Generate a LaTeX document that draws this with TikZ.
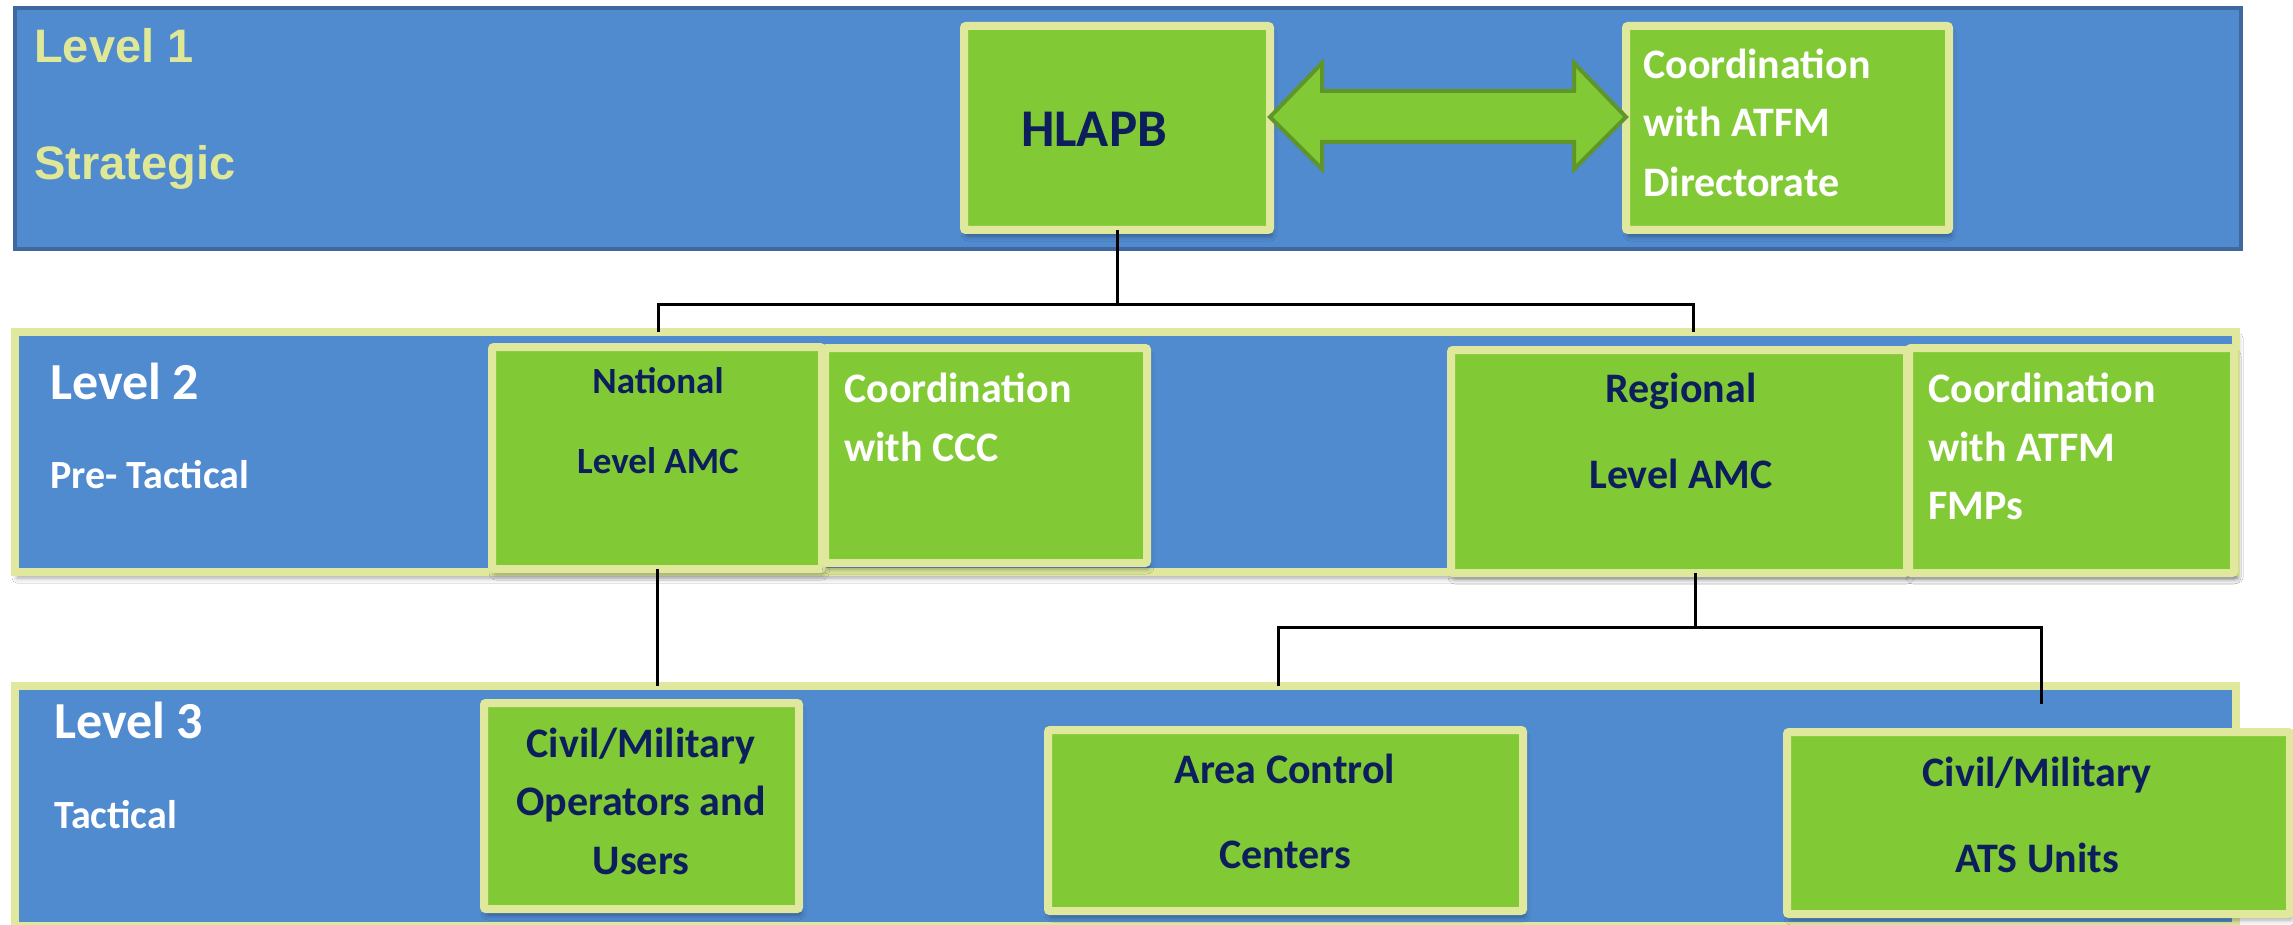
\documentclass[tikz,border=0pt]{standalone}
\usepackage{fontspec}
\setmainfont{Carlito}
\newfontfamily\arialf{Liberation Sans}
\usetikzlibrary{calc,shadows.blur}
\definecolor{bandblue}{HTML}{508BCF}
\definecolor{bandedge}{HTML}{41689E}
\definecolor{boxgreen}{HTML}{82C936}
\definecolor{ybord}{HTML}{E0E89E}
\definecolor{navy}{HTML}{0C1E5C}
\definecolor{lvone}{HTML}{DEE896}
\definecolor{arrowedge}{HTML}{5E962A}
\begin{document}
\begin{tikzpicture}[x=1pt,y=-1pt,
  band/.style={fill=bandblue,inner sep=0pt,outer sep=0pt},
  shad/.style={blur shadow={shadow xshift=2pt,shadow yshift=-6pt,shadow blur radius=5pt,shadow opacity=35}},
  gbox/.style={fill=boxgreen,draw=ybord,line width=8pt,inner sep=0pt,outer sep=0pt,rounded corners=2pt,shad},
  conn/.style={draw=black,line width=3pt},
  dblarrow/.style={fill=boxgreen,draw=arrowedge,line width=4pt,line join=miter},
  wl/.style={text=white,anchor=base west,inner sep=0pt,font=\bfseries\fontsize{42}{42}\selectfont},
  nc/.style={text=navy,anchor=base,inner sep=0pt,font=\bfseries\fontsize{42}{42}\selectfont},
  lvtext/.style={text=white,anchor=base west,inner sep=0pt}
]
\useasboundingbox (0,0) rectangle (2293,925);
\fill[white] (0,0) rectangle (2293,925);

% bands
\node[band,draw=bandedge,line width=4pt,minimum width=2226pt,minimum height=241pt] (band1) at (1128,128.5) {};
\node[band,draw=ybord,line width=8pt,minimum width=2221pt,minimum height=240pt,shad] (band2) at (1125.5,452) {};
\node[band,draw=ybord,line width=8pt,minimum width=2221pt,minimum height=240pt] (band3) at (1125.5,806) {};

% level labels
\node[lvtext,text=lvone,font=\arialf\bfseries\fontsize{47}{47}\selectfont] (tl1) at (34,63) {Level 1};
\node[lvtext,text=lvone,font=\arialf\bfseries\fontsize{47}{47}\selectfont] (tstrat) at (34,180) {Strategic};
\node[lvtext,font=\bfseries\fontsize{52}{52}\selectfont] (tl2) at (50,399) {Level 2};
\node[lvtext,font=\bfseries\fontsize{40}{40}\selectfont] (tpre) at (50,488) {Pre- Tactical};
\node[lvtext,font=\bfseries\fontsize{52}{52}\selectfont] (tl3) at (54,738) {Level 3};
\node[lvtext,font=\bfseries\fontsize{40}{40}\selectfont] (ttac) at (54,828) {Tactical};

% level 1 boxes
\node[gbox,minimum width=306pt,minimum height=204pt] (hlapb) at (1117,128) {};
\node[gbox,minimum width=323pt,minimum height=204pt] (dir) at (1787.5,128) {};
\node[nc,font=\bfseries\fontsize{53}{53}\selectfont] (thlapb) at (1094,147) {HLAPB};
\node[wl] (tdir1) at (1643,79) {Coordination};
\node[wl] (tdir2) at (1643,137) {with ATFM};
\node[wl] (tdir3) at (1643,197) {Directorate};

% double arrow between HLAPB and coordination
\draw[dblarrow] ([yshift=11pt]hlapb.east) -- ++(52,-54) -- ++(0,28)
  -- ($([yshift=11pt]dir.west)+(-52,-26)$) -- ++(0,-28) -- ([yshift=11pt]dir.west)
  -- ++(-52,52) -- ++(0,-27) -- ($([yshift=11pt]hlapb.east)+(52,25)$) -- ++(0,27) -- cycle;

% level 2 boxes
\node[gbox,minimum width=330pt,minimum height=222pt] (nat) at (657,458) {};
\node[gbox,minimum width=322pt,minimum height=215pt] (ccc) at (986,455.5) {};
\node[gbox,minimum width=456pt,minimum height=223pt] (reg) at (1679,461.5) {};
\node[gbox,minimum width=325pt,minimum height=225pt] (fmp) at (2071.5,460.5) {};
\node[nc,font=\bfseries\fontsize{37}{37}\selectfont] (tnat1) at (658,393) {National};
\node[nc,font=\bfseries\fontsize{37}{37}\selectfont] (tnat2) at (658,473) {Level AMC};
\node[wl] (tccc1) at (844,402) {Coordination};
\node[wl] (tccc2) at (844,461) {with CCC};
\node[nc] (treg1) at (1681,402) {Regional};
\node[nc] (treg2) at (1681,488) {Level AMC};
\node[wl] (tfmp1) at (1928,402) {Coordination};
\node[wl] (tfmp2) at (1928,461) {with ATFM};
\node[wl] (tfmp3) at (1928,519) {FMPs};

% level 3 boxes
\node[gbox,minimum width=315pt,minimum height=206pt] (ops) at (641.5,806) {};
\node[gbox,minimum width=475pt,minimum height=181pt] (acc) at (1285.5,820.5) {};
\node[gbox,minimum width=503pt,minimum height=182pt] (ats) at (2038.5,823) {};
\node[nc] (tops1) at (641,757) {Civil/Military};
\node[nc] (tops2) at (641,815) {Operators and};
\node[nc] (tops3) at (641,874) {Users};
\node[nc] (tacc1) at (1285,783) {Area Control};
\node[nc] (tacc2) at (1285,868) {Centers};
\node[nc] (tats1) at (2037,786) {Civil/Military};
\node[nc] (tats2) at (2037,872) {ATS Units};

% connectors
\coordinate (j1L) at (658,304);
\coordinate (j1R) at (1693,304);
\draw[conn] (hlapb.south) -- (hlapb.south |- j1L);
\draw[conn] (j1L |- band2.north) -- (j1L) -- (j1R) -- (j1R |- band2.north);
\draw[conn] (nat.south) -- (nat.south |- band3.north);
\coordinate (j2) at (1695,627);
\coordinate (j2L) at (1278,627);
\coordinate (j2R) at (2041,627);
\coordinate (j2Re) at (2041,704);
\draw[conn] (j2 |- reg.south) -- (j2);
\draw[conn] (j2L |- band3.north) -- (j2L) -- (j2R) -- (j2Re);
\end{tikzpicture}
\end{document}
